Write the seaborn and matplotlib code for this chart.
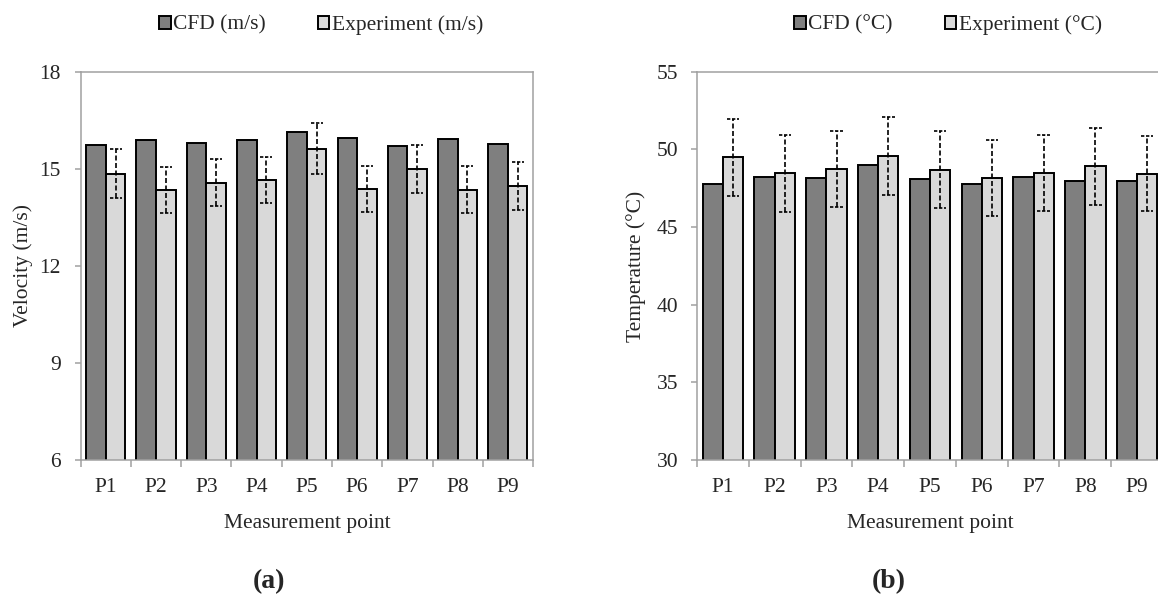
import numpy as np
import pandas as pd
import seaborn as sns
import matplotlib.pyplot as plt
from matplotlib.ticker import FixedLocator

# values
points = ['P1', 'P2', 'P3', 'P4', 'P5', 'P6', 'P7', 'P8', 'P9']
vel_cfd = [15.74, 15.90, 15.80, 15.90, 16.14, 15.94, 15.72, 15.93, 15.77]
vel_exp = [14.85, 14.36, 14.57, 14.66, 15.62, 14.38, 15.00, 14.36, 14.46]
vel_err = [0.76, 0.71, 0.73, 0.72, 0.79, 0.72, 0.74, 0.72, 0.74]
temp_cfd = [47.75, 48.23, 48.14, 48.98, 48.12, 47.75, 48.25, 47.97, 47.95]
temp_exp = [49.50, 48.46, 48.72, 49.56, 48.70, 48.16, 48.48, 48.92, 48.44]
temp_err = [2.47, 2.46, 2.45, 2.50, 2.47, 2.43, 2.44, 2.49, 2.43]
vel_series = ['CFD (m/s)', 'Experiment (m/s)']
temp_series = ['CFD (°C)', 'Experiment (°C)']
vel_ticks = [6, 9, 12, 15, 18]
temp_ticks = [30, 35, 40, 45, 50, 55]

sns.set_style('white')
plt.rcParams['font.family'] = ['Liberation Serif', 'DejaVu Serif']
plt.rcParams['font.size'] = 15

GREY = '#a0a0a0'
FS = 15.5

fig = plt.figure(figsize=(11.58, 5.99), dpi=100)
ax1 = fig.add_axes([0.0697, 0.232, 0.3906, 0.6482])
ax2 = fig.add_axes([0.6019, 0.232, 0.4024, 0.6482])


def draw_panel(ax, cfd, exp, err, series, yticks, ylabel, leg_x, tag, tag_x, ypad):
    df = pd.DataFrame({
        'point': points * 2,
        'value': list(cfd) + list(exp),
        'series': [series[0]] * len(points) + [series[1]] * len(points),
    })
    sns.barplot(data=df, x='point', y='value', hue='series',
                palette=['#7f7f7f', '#d9d9d9'], edgecolor='black',
                linewidth=1.4, width=0.78, ax=ax, legend=False,
                saturation=1)

    # dashed error bars on the experiment bars
    exp_bars = ax.containers[1]
    xs = np.array([p.get_x() + p.get_width() / 2 for p in exp_bars])
    lo = np.array(exp) - np.array(err)
    hi = np.array(exp) + np.array(err)
    ax.vlines(xs, lo, hi, colors='black', linewidth=1.2,
              linestyles=(0, (3, 1.5)), zorder=5)
    cap = 0.12
    ax.hlines(np.concatenate([lo, hi]), np.concatenate([xs - cap, xs - cap]),
              np.concatenate([xs + cap, xs + cap]), colors='black',
              linewidth=1.2, linestyles=(0, (2, 1)), zorder=5)

    ax.set_xlim(-0.5, len(points) - 0.5)
    ax.set_ylim(yticks[0], yticks[-1])
    ax.set_yticks(yticks)
    ax.xaxis.set_minor_locator(FixedLocator(np.arange(-0.5, len(points), 1.0)))
    ax.tick_params(axis='x', which='major', length=0, pad=13, labelsize=FS)
    ax.tick_params(axis='x', which='minor', length=5, width=1.1, color=GREY,
                   direction='out', bottom=True)
    ax.tick_params(axis='y', length=4.5, width=1.1, color=GREY,
                   direction='out', left=True, pad=ypad, labelsize=FS)
    for s in ax.spines.values():
        s.set_visible(True)
        s.set_color(GREY)
        s.set_linewidth(1.1)

    ax.set_xlabel('Measurement point', fontsize=FS, labelpad=12)
    ax.set_ylabel(ylabel, fontsize=FS)

    ax.legend(handles=list(ax.containers[:2]), labels=series, ncol=2,
              frameon=False, loc='center',
              bbox_to_anchor=(leg_x, 1 - 25 / 599),
              bbox_transform=fig.transFigure, fontsize=FS,
              handlelength=0.55, handleheight=0.55, handletextpad=0.1,
              columnspacing=2.4, borderpad=0)

    fig.text(tag_x, 1 - 582 / 599, tag, ha='center', va='center',
             fontsize=20, fontweight='bold')


draw_panel(ax1, vel_cfd, vel_exp, vel_err, vel_series, vel_ticks,
           'Velocity (m/s)', 321 / 1158, '(a)', 269 / 1158, 10)
draw_panel(ax2, temp_cfd, temp_exp, temp_err, temp_series, temp_ticks,
           'Temperature (°C)', 948 / 1158, '(b)', 889 / 1158, 9)

ax1.yaxis.set_label_coords(-0.105, 0.5)
ax2.yaxis.set_label_coords(-0.109, 0.5)

fig.savefig('out.png', dpi=100)
